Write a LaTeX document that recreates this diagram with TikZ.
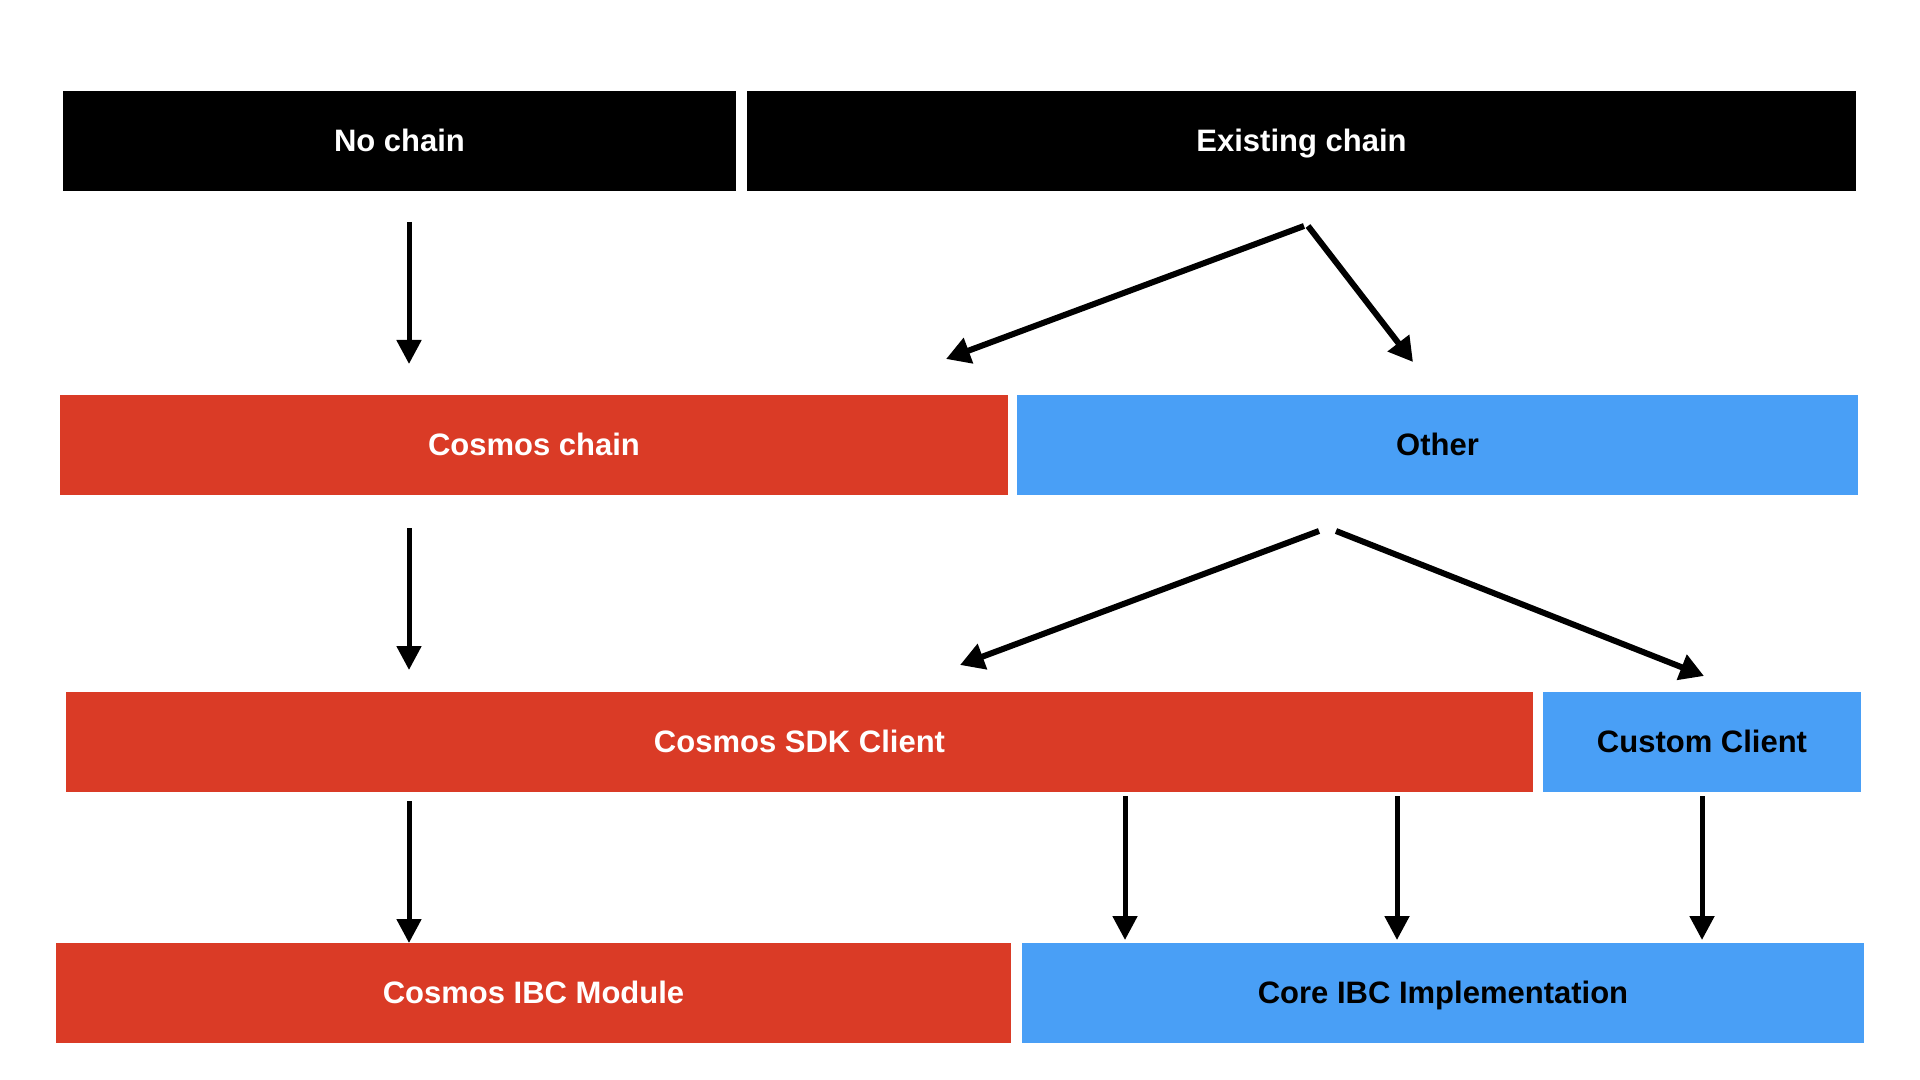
\documentclass[tikz,border=0pt]{standalone}
\usepackage{fontspec}
\setmainfont{Liberation Sans}
\usetikzlibrary{arrows.meta}
\definecolor{cred}{RGB}{218,59,38}
\definecolor{cblue}{RGB}{73,159,246}
\begin{document}
\begin{tikzpicture}[x=0.5pt,y=-0.5pt,
  blk/.style={rectangle, inner sep=0pt, minimum height=50pt, text height=1.04em, text depth=0em, font=\fontsize{15.5pt}{18pt}\selectfont\bfseries},
  blackblk/.style={blk, fill=black, text=white},
  redblk/.style={blk, fill=cred, text=white},
  blueblk/.style={blk, fill=cblue, text=black},
  arr/.style={line width=2.5pt, -{Triangle[width=12pt,length=12pt]}},
  darr/.style={line width=3pt, -{Triangle[width=13pt,length=12pt]}}]
\useasboundingbox (0,0) rectangle (1920,1080);
\fill[white] (0,0) rectangle (1920,1080);
% row 1
\node[blackblk, minimum width=336.5pt] (nochain) at (399.5,141) {No chain};
\node[blackblk, minimum width=554.5pt] (existing) at (1301.5,141) {Existing chain};
% row 2
\node[redblk, minimum width=474pt] (cosmoschain) at (534,445) {Cosmos chain};
\node[blueblk, minimum width=420.5pt] (other) at (1437.5,445) {Other};
% row 3
\node[redblk, minimum width=733.5pt] (sdk) at (799.5,742) {Cosmos SDK Client};
\node[blueblk, minimum width=159pt] (custom) at (1702,742) {Custom Client};
% row 4
\node[redblk, minimum width=477.5pt] (ibcmod) at (533.5,993) {Cosmos IBC Module};
\node[blueblk, minimum width=421pt] (core) at (1443,993) {Core IBC Implementation};
% connector end points
\coordinate (a1s) at (409,222);  \coordinate (a1e) at (409,364);
\coordinate (b1s) at (1304,226); \coordinate (b1e) at (946,359);
\coordinate (b2s) at (1308,226); \coordinate (b2e) at (1413,362);
\coordinate (a2s) at (409,528);  \coordinate (a2e) at (409,670);
\coordinate (c1s) at (1319,531); \coordinate (c1e) at (960,665);
\coordinate (c2s) at (1336,531); \coordinate (c2e) at (1704,676);
\coordinate (a3s) at (409,801);  \coordinate (a3e) at (409,943);
\coordinate (d1s) at (1125,796); \coordinate (d1e) at (1125,940);
\coordinate (d2s) at (1397,796); \coordinate (d2e) at (1397,940);
\coordinate (d3s) at (1702,796); \coordinate (d3e) at (1702,940);
% connectors
\draw[arr] (a1s) -- (a1e);
\draw[darr] (b1s) -- (b1e);
\draw[darr] (b2s) -- (b2e);
\draw[arr] (a2s) -- (a2e);
\draw[darr] (c1s) -- (c1e);
\draw[darr] (c2s) -- (c2e);
\draw[arr] (a3s) -- (a3e);
\draw[arr] (d1s) -- (d1e);
\draw[arr] (d2s) -- (d2e);
\draw[arr] (d3s) -- (d3e);
\end{tikzpicture}
\end{document}
